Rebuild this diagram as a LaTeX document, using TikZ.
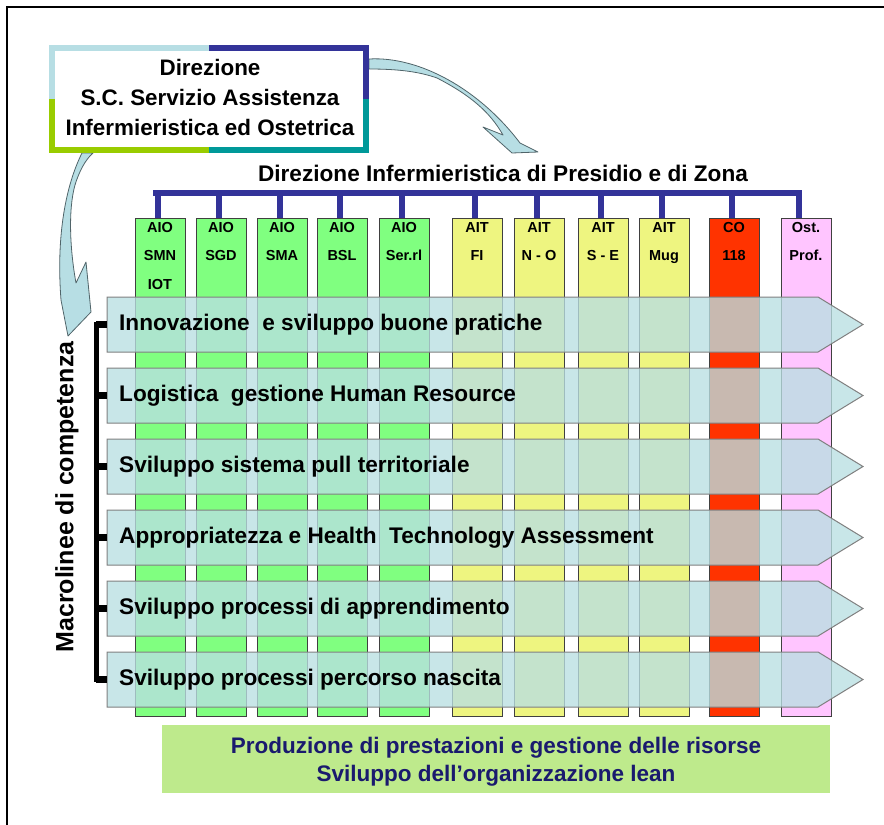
\documentclass[tikz,border=0pt]{standalone}
\usepackage{fontspec}
\setmainfont{Liberation Sans}
\definecolor{cgreen}{RGB}{128,255,128}
\definecolor{cyellow}{RGB}{238,245,128}
\definecolor{cred}{RGB}{255,51,0}
\definecolor{cpink}{RGB}{255,197,255}
\definecolor{cban}{RGB}{185,223,226}
\definecolor{cLB}{RGB}{183,222,228}
\definecolor{cDB}{RGB}{51,51,153}
\definecolor{cGR}{RGB}{153,204,0}
\definecolor{cTE}{RGB}{0,153,153}
\definecolor{cbot}{RGB}{190,234,140}
\definecolor{cnavy}{RGB}{26,26,110}
\definecolor{carrow}{RGB}{183,222,228}
\definecolor{carrowline}{RGB}{80,100,105}
\tikzset{
  colbox/.style={draw=black!75, line width=0.8pt, minimum width=50pt, minimum height=498pt, inner sep=0pt, outer sep=0pt},
  clab/.style={font=\bfseries\fontsize{14.5}{28.5}\selectfont, align=center, inner sep=0pt, anchor=north},
  banner/.style={fill=cban, fill opacity=0.78, draw=black!50, line width=1pt},
  bantext/.style={font=\bfseries\fontsize{22.6}{22.6}\selectfont, anchor=west, inner sep=0pt},
  bus/.style={draw=cDB, line width=6pt},
  fr/.style={line width=6pt},
  brk/.style={line width=5pt, black},
  tick/.style={line width=7pt, black},
  curvearrow/.style={fill=carrow, draw=carrowline, line width=0.8pt, line join=round},
}
\begin{document}
\begin{tikzpicture}[x=1pt,y=-1pt]
\useasboundingbox (0,0) rectangle (884,825);
% frame
\draw[line width=2.5pt] (7,826) -- (7,7) -- (885,7);

% columns
\foreach \x/\c/\t [count=\i] in {
  135/cgreen/{AIO\\SMN\\IOT}, 196/cgreen/{AIO\\SGD}, 257/cgreen/{AIO\\SMA},
  317/cgreen/{AIO\\BSL}, 379/cgreen/{AIO\\Ser.rl}, 452/cyellow/{AIT\\FI},
  514/cyellow/{AIT\\N - O}, 578/cyellow/{AIT\\S - E}, 639/cyellow/{AIT\\Mug},
  709/cred/{CO\\118}, 781/cpink/{Ost.\\Prof.}}{
  \node[colbox, fill=\c] (col\i) at (\x+25,467) {};
  \node[clab] (lab\i) at (\x+25,222) {\t};
}

% bus
\coordinate (busL) at (153,193);
\coordinate (busR) at (802,193);
\draw[bus] (busL) -- (busR);
\foreach \i in {1,...,10}{
  \draw[bus] ([xshift=-2pt]col\i.north |- busL) -- ([xshift=-2pt]col\i.north);
}
\draw[bus] ([xshift=-7pt]col11.north |- busL) -- ([xshift=-7pt]col11.north);
\node[font=\bfseries\fontsize{22.6}{22.6}\selectfont, inner sep=0pt] (dip) at (503,173) {Direzione Infermieristica di Presidio e di Zona};

% banners
\foreach \yc/\t [count=\i] in {
  324.5/{Innovazione~ e sviluppo buone pratiche},
  395.5/{Logistica~ gestione Human Resource},
  466.5/{Sviluppo sistema pull territoriale},
  537.5/{Appropriatezza e Health~ Technology Assessment},
  608.5/{Sviluppo processi di apprendimento},
  679.5/{Sviluppo processi percorso nascita}}{
  \draw[banner] (107,\yc-27.5) -- (818,\yc-27.5) -- (863,\yc) -- (818,\yc+27.5) -- (107,\yc+27.5) -- cycle;
  \coordinate (bw\i) at (107,\yc);
  \coordinate (br\i) at (96,\yc);
  \node[bantext] (ban\i) at (119,\yc) {\t};
}

% bracket
\draw[brk] ([yshift=2.5pt]br1) -- ([yshift=-2.5pt]br6);
\foreach \i in {1,...,6}{
  \draw[tick] (br\i) -- (bw\i);
}
\node[rotate=90, font=\bfseries\fontsize{25}{25}\selectfont, inner sep=0pt] (mac) at (67,497) {Macrolinee di competenza};

% bottom box
\node[fill=cbot, minimum width=668pt, minimum height=68pt, inner sep=0pt] (prod) at (496,759) {};
\node[font=\bfseries\fontsize{22.5}{28}\selectfont, text=cnavy, align=center, inner sep=0pt] (prodt) at (496,762) {Produzione di prestazioni e gestione delle risorse\\Sviluppo dell’organizzazione lean};

% curved arrows
\draw[curvearrow] (369,59) .. controls (420,56) and (480,90) .. (520,143) -- (538,152) -- (512,153) -- (483,127) -- (503,135) .. controls (490,112) and (470,95) .. (437,78) .. controls (420,72) and (400,69) .. (369,69) -- cycle;
\draw[curvearrow] (82,153) .. controls (66,185) and (56,235) .. (61,300) -- (68,336) -- (91,312) -- (86,262) -- (76,283) .. controls (70,250) and (68,210) .. (75,185) .. controls (79,172) and (85,160) .. (93,153) -- cycle;

% top box
\node[minimum width=314pt, minimum height=102pt, inner sep=0pt, outer sep=0pt, fill=white] (dir) at (209,99) {};
\draw[fr, cLB] (dir.west) -- (dir.north west) -- (dir.north);
\draw[fr, cDB] (dir.north) -- (dir.north east) -- (dir.east);
\draw[fr, cTE] (dir.east) -- (dir.south east) -- (dir.south);
\draw[fr, cGR] (dir.south) -- (dir.south west) -- (dir.west);
\node[font=\bfseries\fontsize{22.4}{30}\selectfont, align=center, inner sep=0pt] (dirt) at (210,97) {Direzione\\S.C. Servizio Assistenza\\Infermieristica ed Ostetrica};
\end{tikzpicture}
\end{document}
